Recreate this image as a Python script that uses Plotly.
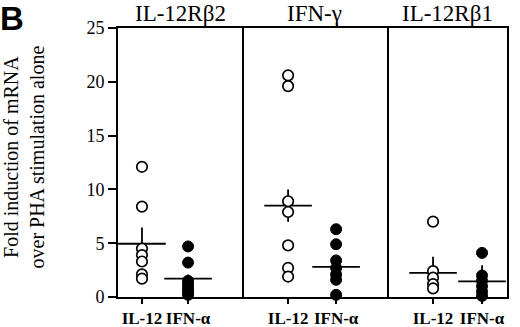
import plotly.graph_objects as go
from plotly.subplots import make_subplots

panels = ["IL-12Rβ2", "IFN-γ", "IL-12Rβ1"]
treatments = ["IL-12", "IFN-α"]
il12_values = [
    [12.1, 8.4, 4.5, 3.9, 3.3, 2.1, 1.7],
    [20.6, 19.6, 8.9, 7.9, 4.8, 2.7, 1.9],
    [7.0, 2.4, 1.8, 1.2, 0.8],
]
ifna_values = [
    [4.7, 3.2, 1.5, 1.2, 0.9, 0.6, 0.4, 0.2],
    [6.3, 4.9, 3.4, 2.7, 2.1, 1.6, 0.2],
    [4.1, 2.0, 1.5, 1.0, 0.5, 0.1],
]
il12_mean = [4.95, 8.5, 2.25]
il12_sem = [1.5, 1.5, 1.5]
ifna_mean = [1.7, 2.8, 1.45]
ifna_sem = [0.4, 0.9, 1.5]
y_ticks = [0, 5, 10, 15, 20, 25]

x_ranges = [[-0.52, 2.17], [-0.96, 2.06], [-0.94, 1.51]]

fig = make_subplots(rows=1, cols=3, shared_yaxes=True,
                    column_widths=[124, 145, 120], horizontal_spacing=0)

serif = "Liberation Serif, Times New Roman, serif"
LW = 1.8

for i in range(3):
    col = i + 1
    fig.add_trace(go.Scatter(
        x=[0, 1], y=[il12_mean[i], ifna_mean[i]], mode="markers",
        marker=dict(symbol="line-ew", size=34, line=dict(color="black", width=LW)),
        error_y=dict(type="data", array=[il12_sem[i], ifna_sem[i]], width=0,
                     thickness=LW, color="black"),
        showlegend=False, cliponaxis=False, hoverinfo="skip"), row=1, col=col)
    fig.add_trace(go.Scatter(
        x=[0] * len(il12_values[i]), y=il12_values[i], mode="markers",
        marker=dict(symbol="circle", size=10.5, color="white",
                    line=dict(color="black", width=1.7)),
        showlegend=False, cliponaxis=False), row=1, col=col)
    fig.add_trace(go.Scatter(
        x=[1] * len(ifna_values[i]), y=ifna_values[i], mode="markers",
        marker=dict(symbol="circle", size=11, color="black",
                    line=dict(color="black", width=1)),
        showlegend=False, cliponaxis=False), row=1, col=col)
    fig.update_xaxes(range=x_ranges[i], tickvals=[0, 1],
                     ticktext=["<b>%s</b>" % t for t in treatments],
                     ticks="outside", ticklen=5, tickwidth=LW, tickcolor="black",
                     tickangle=0,
                     showline=True, linecolor="black", linewidth=LW, mirror=True,
                     showgrid=False, zeroline=False, automargin=False,
                     tickfont=dict(family=serif, size=17, color="black"),
                     row=1, col=col)

fig.update_yaxes(range=[0, 25], showgrid=False, zeroline=False, automargin=False)
fig.update_yaxes(tickvals=y_ticks, ticks="outside", ticklen=8, tickwidth=LW,
                 tickcolor="black", tickfont=dict(family=serif, size=18, color="black"),
                 showline=True, linecolor="black", linewidth=LW, mirror=True,
                 row=1, col=1)
fig.update_yaxes(showticklabels=False, ticks="", side="right",
                 showline=True, linecolor="black", linewidth=LW, row=1, col=2)
fig.update_yaxes(showticklabels=False, ticks="", side="right",
                 showline=True, linecolor="black", linewidth=LW, row=1, col=3)

# y-axis title
fig.add_annotation(text="Fold induction of mRNA<br>over PHA stimulation alone",
                   textangle=-90, x=0, y=0.5, xref="paper", yref="paper",
                   xanchor="center", yanchor="middle", xshift=-95, yshift=5,
                   showarrow=False,
                   font=dict(family=serif, size=20, color="black"))

# panel titles
domains = [fig.layout.xaxis.domain, fig.layout.xaxis2.domain, fig.layout.xaxis3.domain]
for i, name in enumerate(panels):
    d = domains[i]
    fig.add_annotation(text=name, x=(d[0] + d[1]) / 2, y=1.0, xref="paper", yref="paper",
                       xanchor="center", yanchor="bottom", showarrow=False, yshift=0,
                       font=dict(family=serif, size=23, color="black"))

fig.add_annotation(text="<b>B</b>", x=0, y=1, xref="paper", yref="paper",
                   xanchor="left", yanchor="top", showarrow=False, xshift=-120, yshift=30,
                   font=dict(family="Liberation Sans, Arial, sans-serif", size=33, color="black"))

fig.update_layout(width=520, height=327, margin=dict(l=118, r=13, t=28, b=30),
                  plot_bgcolor="white", paper_bgcolor="white", hovermode=False)

fig.write_html("out.html", config={"displayModeBar": False},
               post_script="document.body.style.margin='0';document.body.style.padding='0';"
                           "document.body.style.overflow='hidden';")
